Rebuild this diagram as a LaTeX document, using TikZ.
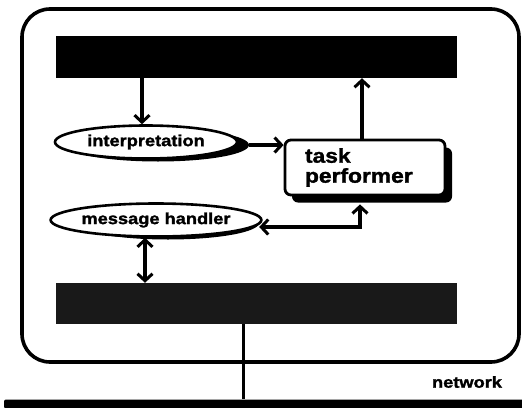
\documentclass[tikz,border=0pt]{standalone}
\usepackage{fontspec}
\newfontfamily\lbl[FakeStretch=1.14,FakeBold=1.6]{Liberation Sans Bold}
\usetikzlibrary{shapes.geometric,arrows.meta,calc}
\begin{document}
\begin{tikzpicture}[x=1pt,y=-1pt,
  tipx/.tip={Straight Barb[length=7pt,width=15pt,line width=3pt]},
  conn/.style={line width=3.2pt,-tipx},
  conn2/.style={line width=3.2pt,tipx-tipx},
  bar/.style={minimum width=401pt,inner sep=0pt,draw=none},
  ell/.style={ellipse,minimum width=182pt,minimum height=33pt,inner sep=0pt},
  ellshadow/.style={ell,fill=black},
  ellnode/.style={ell,draw=black,fill=white,line width=2.6pt,font=\lbl\fontsize{16}{16}\selectfont},
  boxshape/.style={rounded corners=6pt,minimum width=160pt,minimum height=55pt,inner sep=0pt},
  lbltext/.style={font=\lbl\fontsize{16}{16}\selectfont}
]
\useasboundingbox (0,0) rectangle (522,407);

% outer frame
\node[draw=black,line width=3.6pt,rounded corners=28pt,minimum width=497pt,minimum height=353pt,inner sep=0pt] (outer) at (270.5,185.5) {};

% bars
\node[bar,fill=black,minimum height=42pt] (topbar) at (256.5,57) {};
\node[bar,fill=black!90,minimum height=41pt] (botbar) at (256.5,303.5) {};

% interpretation
\node[ellshadow] (interpS) at (158,145) {};
\node[ellnode] (interp) at (146,142) {interpretation};

% message handler
\node[ellshadow] (msgS) at (168,223) {};
\node[ellnode] (msg) at (156,220) {message handler};

% task performer
\node[boxshape,fill=black] (taskS) at (372,175) {};
\node[boxshape,draw=black,fill=white,line width=2.8pt,text width=120pt,align=left,
      font=\lbl\fontsize{20}{20}\selectfont] (task) at (365,167.5) {task\\performer};

% network
\node[lbltext] (netlabel) at (467,382) {network};
\node[fill=black,minimum width=520pt,minimum height=9pt,inner sep=0pt,rounded corners=2pt] (netbar) at (264,404) {};

% connectors
\draw[conn] ([xshift=-4pt]interp.north |- topbar.south) -- ([xshift=-4pt]interp.north);
\draw[conn] (interpS.east) -- (interpS.east -| task.west);
\draw[conn] ([xshift=-3pt]task.north) -- ([xshift=-3pt]task.north |- topbar.south);
\draw[conn2] ([xshift=-5pt,yshift=-8pt]task.south) |- ([yshift=-4pt]msgS.east);
\draw[conn2] ([xshift=-11pt]msg.south) -- ([xshift=-11pt]msg.south |- botbar.north);
\draw[line width=3pt] ([xshift=-13.5pt]botbar.south) -- ([xshift=-13.5pt]botbar.south |- netbar.north);
\end{tikzpicture}
\end{document}
